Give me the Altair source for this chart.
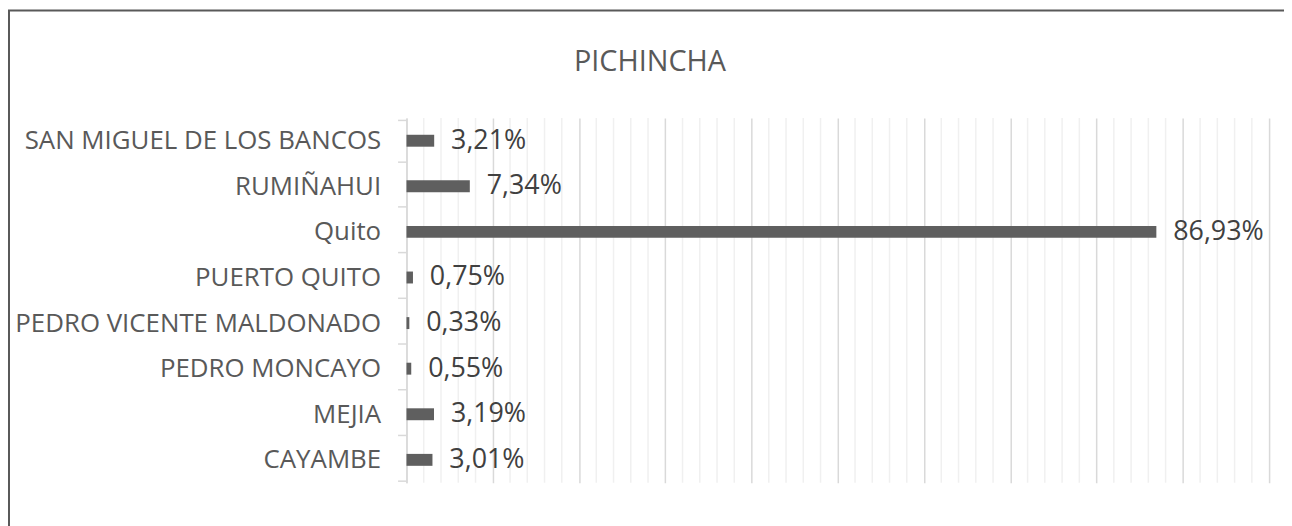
import altair as alt
import pandas as pd

categories = ["SAN MIGUEL DE LOS BANCOS", "RUMIÑAHUI", "Quito", "PUERTO QUITO",
              "PEDRO VICENTE MALDONADO", "PEDRO MONCAYO", "MEJIA", "CAYAMBE"]
values = [3.21, 7.34, 86.93, 0.75, 0.33, 0.55, 3.19, 3.01]
major_grid = list(range(0, 101, 10))
minor_grid = [v for v in range(0, 101, 2) if v % 10 != 0]

df = pd.DataFrame({"canton": categories, "pct": values})
df["label"] = [f"{v:.2f}".replace(".", ",") + "%" for v in values]
grid_df = pd.DataFrame({"g": minor_grid})

FONT = "Open Sans"
xscale = alt.Scale(domain=[0, 100], nice=False)

x_enc = alt.X("pct:Q", scale=xscale,
              axis=alt.Axis(values=major_grid, labels=False, ticks=False, domain=False,
                            title=None, gridColor="#d9d9d9", gridWidth=1.5))
y_enc = alt.Y("canton:N", sort=categories,
              axis=alt.Axis(title=None, tickBand="extent", tickSize=9, tickColor="#d9d9d9",
                            tickWidth=1.5, domainColor="#d9d9d9", domainWidth=1.5,
                            labelFont=FONT, labelFontSize=26, labelColor="#595959",
                            labelPadding=17, labelLimit=0))

minor = alt.Chart(grid_df).mark_rule(color="#f0f0f0", strokeWidth=1.5).encode(
    x=alt.X("g:Q", scale=xscale))

base = alt.Chart(df)
bars = base.mark_bar(size=12, color="#5f5f5f").encode(x=x_enc, y=y_enc)
text = base.mark_text(align="left", baseline="middle", dx=17, font=FONT, fontSize=27,
                      color="#404040").encode(x="pct:Q", y=alt.Y("canton:N", sort=categories),
                                              text="label:N")

frame = alt.Chart(pd.DataFrame({"k": [0]})).mark_rect(
    fill=None, stroke="#595959", strokeWidth=2).encode(
    x=alt.value(-400), x2=alt.value(1200), y=alt.value(-108), y2=alt.value(800))

chart = alt.layer(minor, bars, text, frame).properties(
    width=868, height=367,
    autosize=alt.AutoSizeParams(type="none"),
    padding={"left": 401, "top": 109, "right": 15, "bottom": 42},
    title=alt.TitleParams("PICHINCHA", font=FONT, fontSize=29, fontWeight="normal",
                          color="#595959", anchor="middle", dx=-189, offset=0, dy=91,
                          baseline="alphabetic"),
).configure_view(stroke=None)

chart.save("out.html", embed_options={"renderer": "svg", "actions": False})
